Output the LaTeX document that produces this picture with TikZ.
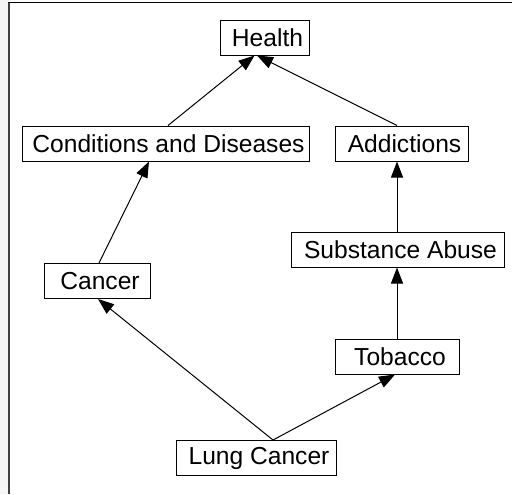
\documentclass[tikz,border=0pt]{standalone}
\usepackage{fontspec}
\setmainfont{Liberation Sans}
\usetikzlibrary{calc,arrows.meta}
\begin{document}
\begin{tikzpicture}[x=0.5pt,y=-0.5pt,
  box/.style={draw=black,line width=0.5pt,fill=white,inner sep=0pt,minimum height=17.5pt,font=\fontsize{12.3pt}{14pt}\selectfont},
  link/.style={line width=0.5pt,-{Triangle[length=8pt,width=6pt]}}]
\useasboundingbox (0,0) rectangle (512,494);
\fill[white] (0,0) rectangle (512,494);
\fill[black!4] (0,0) rectangle (8,494);
\draw[line width=1.2pt,black!75] (9.2,2) -- (9.2,494);
\draw[line width=0.8pt,black] (8,2.5) -- (512,2.5);
\node[box,minimum width=44.5pt] (health) at (264.5,37.5) {\hspace*{3pt}Health};
\node[box,minimum width=143.5pt] (cond) at (165.5,143.5) {\hspace*{3pt}Conditions and Diseases};
\node[box,minimum width=66.5pt] (addict) at (401.5,143.5) {\hspace*{3pt}Addictions};
\node[box,minimum width=106.5pt] (subst) at (397.5,249.5) {\hspace*{3pt}Substance Abuse};
\node[box,minimum width=53pt] (cancer) at (97,281) {\hspace*{3pt}Cancer};
\node[box,minimum width=62pt] (tobacco) at (397,356.5) {\hspace*{3pt}Tobacco};
\node[box,minimum width=80pt] (lung) at (256,458) {\hspace*{3pt}Lung Cancer};
\draw[link] ($(cond.north)+(2.5,0)$) -- ($(health.south)+(-10,0)$);
\draw[link] ($(addict.north)+(-4.5,0)$) -- ($(health.south)+(-7.5,0)$);
\draw[link] ($(cancer.north)+(2,0)$) -- ($(cond.south)+(-16.5,0)$);
\draw[link] ($(subst.north)+(-0.5,0)$) -- ($(addict.south)+(-4.5,0)$);
\draw[link] (tobacco.north) -- ($(subst.south)+(-0.5,0)$);
\draw[link] ($(lung.north)+(17,0)$) -- ($(cancer.south)+(1,0)$);
\draw[link] ($(lung.north)+(17,0)$) -- ($(tobacco.south)+(-2,0)$);
\end{tikzpicture}
\end{document}
